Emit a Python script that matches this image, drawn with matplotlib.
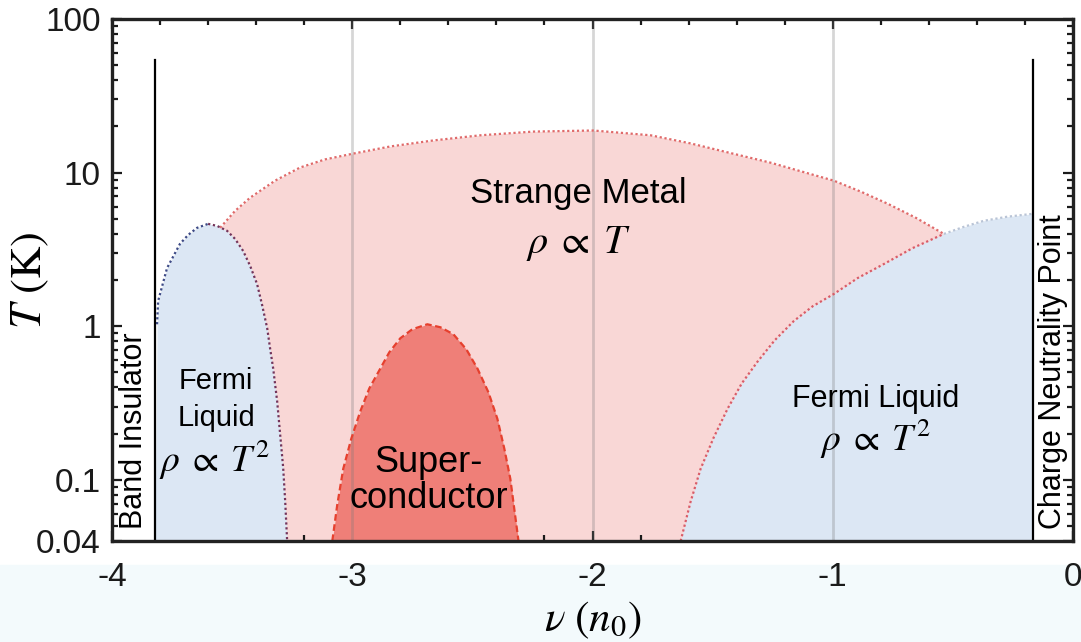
import matplotlib
matplotlib.use("Agg")
import matplotlib.pyplot as plt
from matplotlib.ticker import MultipleLocator, LogLocator, NullFormatter
from matplotlib.patches import Rectangle
import numpy as np

plt.rcParams['font.family'] = ['Liberation Sans', 'DejaVu Sans']
plt.rcParams['mathtext.fontset'] = 'stix'
plt.rcParams['axes.unicode_minus'] = False

# ---- data ----
# Left Fermi-liquid dome (nu, T)
left_fl_nu = [-3.821, -3.8125, -3.808, -3.771, -3.717, -3.683, -3.646, -3.600,
              -3.5625, -3.521, -3.4875, -3.454, -3.425, -3.396, -3.375, -3.354,
              -3.342, -3.329, -3.3125, -3.300, -3.2875, -3.279, -3.271]
left_fl_T = [0.04, 1.03, 1.46, 2.39, 3.44, 3.93, 4.37, 4.64,
             4.50, 4.18, 3.70, 3.09, 2.47, 1.88, 1.37, 0.97,
             0.718, 0.53, 0.324, 0.197, 0.1198, 0.072, 0.04]
left_fl_peak = 7  # index of the dome top

# Strange-metal upper crossover
sm_nu = [-3.55, -3.4875, -3.425, -3.321, -3.217, -3.1125, -2.996, -2.842,
         -2.6625, -2.467, -2.246, -1.996, -1.758, -1.592, -1.467, -1.258,
         -0.996, -0.883, -0.771, -0.654, -0.5375]
sm_T = [4.37, 5.64, 6.87, 8.87, 10.8, 12.2, 13.3, 14.8,
        16.2, 17.5, 18.5, 18.8, 17.5, 15.5, 13.9, 11.6,
        8.87, 7.52, 6.27, 5.08, 3.99]

# Right Fermi-liquid region boundary
right_fl_nu = [-1.633, -1.592, -1.55, -1.496, -1.4375, -1.379, -1.3125, -1.2417,
               -1.1625, -1.0833, -0.996, -0.896, -0.7875, -0.667, -0.5375,
               -0.454, -0.371, -0.275, -0.165]
right_fl_T = [0.04, 0.0718, 0.118, 0.188, 0.291, 0.424, 0.59, 0.81,
              1.08, 1.35, 1.62, 2.06, 2.54, 3.23, 3.99,
              4.44, 4.86, 5.16, 5.4]
right_fl_junction = 14  # index where it meets the strange-metal line

# Superconducting dome
sc_nu = [-3.083, -3.0625, -3.0375, -3.004, -2.967, -2.929, -2.883, -2.846,
         -2.80, -2.75, -2.6875, -2.633, -2.579, -2.525, -2.479, -2.433,
         -2.396, -2.367, -2.342, -2.325, -2.308]
sc_T = [0.04, 0.0687, 0.118, 0.1854, 0.278, 0.394, 0.531, 0.676,
        0.835, 0.956, 1.03, 0.985, 0.887, 0.707, 0.531, 0.371,
        0.25, 0.1596, 0.1016, 0.0637, 0.04]

# Boundary markers
band_insulator_nu = -3.82
cnp_nu = -0.165
marker_line_top = 54

T_min, T_max = 0.04, 100
x_ticks = [-4, -3, -2, -1, 0]
x_tick_labels = ['-4', '-3', '-2', '-1', '0']
y_ticks = [0.04, 0.1, 1, 10, 100]
y_tick_labels = ['0.04', '0.1', '1', '10', '100']
grid_nu = [-3, -2, -1]

# ---- colours ----
pink = '#f9d7d6'
blue = '#dce7f4'
sc_fill = '#ef7f78'
sc_edge = '#e6402e'

fig = plt.figure(figsize=(10.81, 6.42), dpi=100)
fig.patches.append(Rectangle((0, 0), 1, 0.12, transform=fig.transFigure,
                             color='#f3fafc', zorder=-5))
ax = fig.add_axes([112/1081, 1-541/642, (1073-112)/1081, (541-19)/642])
ax.set_yscale('log')
ax.set_xlim(-4, 0)
ax.set_ylim(T_min, T_max)

# strange metal fill
ax.fill_between(sm_nu, T_min, sm_T, color=pink, lw=0, zorder=1)
# Fermi liquid fills
ax.fill_between(left_fl_nu, T_min, left_fl_T, color=blue, lw=0, zorder=2)
ax.fill_between(right_fl_nu, T_min, right_fl_T, color=blue, lw=0, zorder=2)
# superconductor
ax.fill_between(sc_nu, T_min, sc_T, color=sc_fill, lw=0, zorder=3)

# grid lines
for g in grid_nu:
    ax.axvline(g, color='#7a7a7a', alpha=0.3, lw=2, zorder=4)

# outlines
dot = (0, (1, 1.2))
ax.plot(sm_nu, sm_T, ls=dot, color='#e06a6a', lw=1.6, zorder=5)
ax.plot(left_fl_nu[1:left_fl_peak+1], left_fl_T[1:left_fl_peak+1],
        ls=dot, color='#3d4a86', lw=1.6, zorder=5)
ax.plot(left_fl_nu[left_fl_peak:], left_fl_T[left_fl_peak:],
        ls=dot, color='#74345a', lw=1.6, zorder=5)
ax.plot(right_fl_nu[:right_fl_junction+1], right_fl_T[:right_fl_junction+1],
        ls=dot, color='#d85c68', lw=1.6, zorder=5)
ax.plot(right_fl_nu[right_fl_junction:], right_fl_T[right_fl_junction:],
        ls=dot, color='#b9c4d6', lw=1.6, zorder=5)
ax.plot(sc_nu, sc_T, ls=(0, (3, 1.6)), color=sc_edge, lw=1.6, zorder=5)

# boundary lines
ax.plot([band_insulator_nu, band_insulator_nu], [T_min, marker_line_top],
        color='k', lw=1.6, zorder=6)
ax.plot([cnp_nu, cnp_nu], [T_min, marker_line_top], color='k', lw=1.6, zorder=6)

# ticks
ax.set_xticks(x_ticks, x_tick_labels)
ax.set_yticks(y_ticks, y_tick_labels)
ax.xaxis.set_minor_locator(MultipleLocator(0.2))
ax.yaxis.set_minor_locator(LogLocator(base=10, subs=np.arange(2, 10)))
ax.yaxis.set_minor_formatter(NullFormatter())
ax.tick_params(which='both', direction='in', top=True, right=True,
               width=1.6, labelsize=24, colors='#1a1a1a', zorder=7)
ax.tick_params(which='major', length=7)
ax.tick_params(which='minor', length=4)
ax.tick_params(axis='x', pad=15)
ax.tick_params(axis='y', pad=8)
for s in ax.spines.values():
    s.set_linewidth(2.4)
    s.set_color('#222222')
    s.set_zorder(8)

ax.set_xlabel(r'$\nu\ (n_0)$', fontsize=31, labelpad=5)
ax.set_ylabel(r'$T\ (\mathrm{K})$', fontsize=32)
ax.yaxis.set_label_coords(-0.085, 0.5)
ax.yaxis.label.set_verticalalignment('center')
ax.yaxis.label.set_rotation_mode('anchor')

# annotations
rho_T = r'$\rho\;\propto\;T$'
rho_T2 = r'$\rho\;\propto\;T^2$'
ax.text(-2.058, 7.3, 'Strange Metal', ha='center', va='center', fontsize=25, zorder=9)
ax.text(-2.058, 3.44, rho_T, ha='center', va='center', fontsize=29, zorder=9)
ax.text(-3.567, 0.437, 'Fermi', ha='center', va='center', fontsize=21, zorder=9)
ax.text(-3.567, 0.254, 'Liquid', ha='center', va='center', fontsize=21, zorder=9)
ax.text(-3.572, 0.135, rho_T2, ha='center', va='center', fontsize=27, zorder=9)
ax.text(-2.683, 0.129, 'Super-', ha='center', va='center', fontsize=26, zorder=9)
ax.text(-2.683, 0.0752, 'conductor', ha='center', va='center', fontsize=26, zorder=9)
ax.text(-0.821, 0.338, 'Fermi Liquid', ha='center', va='center', fontsize=22, zorder=9)
ax.text(-0.822, 0.185, rho_T2, ha='center', va='center', fontsize=27, zorder=9)
ax.text(-3.908, 0.209, 'Band Insulator', ha='center', va='center', rotation=90,
        fontsize=22, zorder=9)
ax.text(-0.083, 0.508, 'Charge Neutrality Point', ha='center', va='center',
        rotation=90, fontsize=22, zorder=9)

fig.savefig('out.png', dpi=100)
